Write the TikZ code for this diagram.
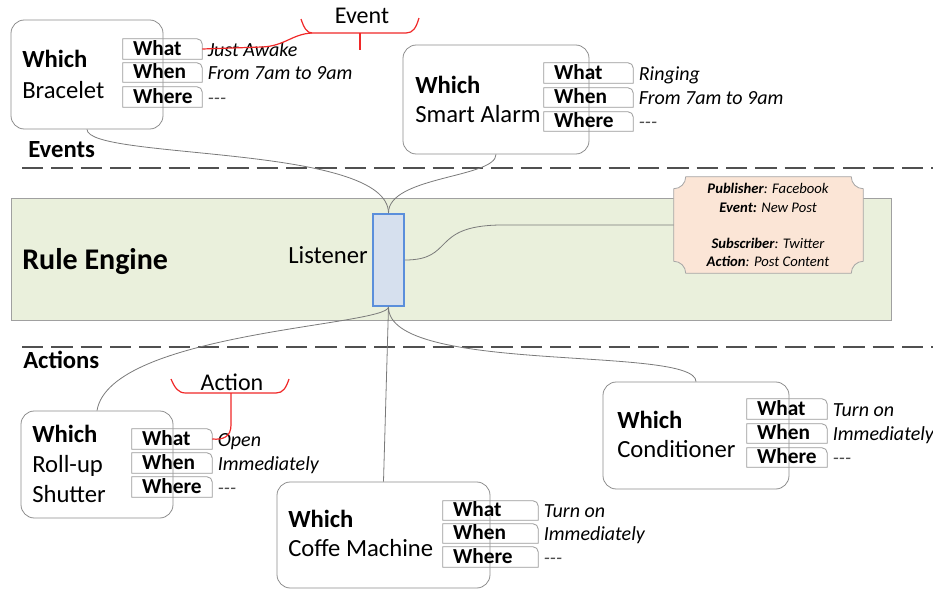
\documentclass[tikz,border=0pt]{standalone}
\usepackage{fontspec}
\setmainfont{Carlito}
\usetikzlibrary{fit}

\definecolor{boxgray}{HTML}{8C8C8C}
\definecolor{fieldgray}{HTML}{9A9A9A}
\definecolor{linkgray}{HTML}{7A7A7A}
\definecolor{sepgray}{HTML}{505050}
\definecolor{bandfill}{HTML}{EAF0DC}
\definecolor{bandline}{HTML}{A0A0A0}
\definecolor{lisfill}{HTML}{D6E0EE}
\definecolor{lisline}{HTML}{5B8FDB}
\definecolor{plaquefill}{HTML}{FBE5D6}
\definecolor{plaqueline}{HTML}{A6A6A6}
\definecolor{bracered}{HTML}{F02828}

\tikzset{
  devbox/.style={draw=boxgray, line width=0.6pt, rounded corners=10pt, inner sep=0pt},
  whichtxt/.style={font=\fontsize{18.5}{22}\selectfont\bfseries, anchor=base west, inner sep=0pt},
  nametxt/.style={font=\fontsize{18.5}{22}\selectfont, anchor=base west, inner sep=0pt},
  fieldline/.style={draw=fieldgray, line width=0.6pt},
  fieldtxt/.style={font=\fontsize{16}{18}\selectfont\bfseries, anchor=base west, inner sep=0pt},
  valtxt/.style={font=\fontsize{15}{17}\selectfont\itshape, anchor=base west, inner sep=0pt},
  sectxt/.style={font=\fontsize{18.5}{22}\selectfont\bfseries, anchor=base west, inner sep=0pt},
  bracetxt/.style={font=\fontsize{18}{22}\selectfont, anchor=base, inner sep=0pt},
  plaquetxt/.style={font=\fontsize{11}{13}\selectfont\itshape, anchor=base, inner sep=0pt},
  link/.style={draw=linkgray, line width=0.6pt},
  redlink/.style={draw=bracered, line width=0.9pt},
  sepline/.style={draw=sepgray, line width=1.3pt, dash pattern=on 16pt off 6pt},
}

% one "What / When / Where" row: name, x1, y1, x2, y2, field, value
\newcommand\devfield[7]{%
  \node[fit={(#2,#3) (#4,#5)}, inner sep=0pt] (#1) {};
  \draw[fieldline] (#1.south west) -- (#1.north west) -- ([xshift=-4pt]#1.north east)
     arc[start angle=90, end angle=0, radius=4pt] -- (#1.south east) -- cycle;
  \node[fieldtxt] (#1-lbl) at ([xshift=7.5pt,yshift=2.5pt]#1.south west) {#6};
  \node[valtxt] (#1-val) at ([xshift=4pt,yshift=2.3pt]#1.south east) {#7};
}
\newcommand\nothing{\textcolor{black!70}{-{}-{}-}}

\begin{document}
\begin{tikzpicture}[x=0.75pt,y=-0.75pt]
\useasboundingbox (0,0) rectangle (933,590);

% rule engine band
\node[fit={(11,198) (891,320)}, inner sep=0pt, draw=bandline, fill=bandfill, line width=0.5pt] (band) {};
\node[font=\fontsize{22.5}{26}\selectfont\bfseries, anchor=base west, inner sep=0pt] (ruleengine) at (22,269) {Rule Engine};
\node[nametxt] (listxt) at (288,263) {Listener};

% separators
\draw[sepline] (22,168) -- (933,168);
\draw[sepline] (22,347) -- (933,347);
\node[sectxt] (events) at (28,157) {Events};
\node[sectxt] (actions) at (23,368) {Actions};

% device boxes
\node[devbox, fit={(11,20) (163,129)}] (bracelet) {};
\node[devbox, fit={(403,45) (589,154)}] (alarm) {};
\node[devbox, fit={(21,411) (173,518)}] (shutter) {};
\node[devbox, fit={(277,482) (490,588)}] (coffee) {};
\node[devbox, fit={(603,382) (789,489)}] (cond) {};

% listener
\node[fit={(373,214) (404,306)}, inner sep=0pt, draw=lisline, fill=lisfill, line width=1.4pt] (lis) {};

% plaque with concave corners
\node[fit={(674,177) (863,273)}, inner sep=0pt] (plaque) {};
\filldraw[fill=plaquefill, draw=plaqueline, line width=0.6pt]
  ([xshift=9pt]plaque.north west) -- ([xshift=-9pt]plaque.north east)
  arc[start angle=180, end angle=270, radius=9pt] -- ([yshift=9pt]plaque.south east)
  arc[start angle=90, end angle=180, radius=9pt] -- ([xshift=9pt]plaque.south west)
  arc[start angle=0, end angle=90, radius=9pt] -- ([yshift=-9pt]plaque.north west)
  arc[start angle=270, end angle=360, radius=9pt] -- cycle;
\node[plaquetxt] (pub) at (768,193) {\textbf{Publisher}: Facebook};
\node[plaquetxt] (evt) at (768,212) {\textbf{Event:} New Post};
\node[plaquetxt] (sub) at (768,248) {\textbf{Subscriber}: Twitter};
\node[plaquetxt] (act) at (768,266) {\textbf{Action}: Post Content};

% connectors
\draw[link] (bracelet.south) .. controls (88,160) and (388,144) .. (lis.north);
\draw[link] (alarm.south) .. controls (496,178) and (388,176) .. (lis.north);
\draw[link] (lis.east) .. controls (455,260) and (430,226) .. (500,225) -- (plaque.west);
\draw[link] (lis.south) .. controls (388,326) and (110,332) .. (shutter.north);
\draw[link] (lis.south) -- (coffee.north);
\draw[link] (lis.south) .. controls (388,375) and (696,345) .. (cond.north);

% device texts
\node[whichtxt] (bw) at (22,67) {Which};
\node[nametxt] (bn) at (22,98) {Bracelet};
\devfield{bwhat}{123}{39}{202}{59}{What}{Just Awake}
\devfield{bwhen}{123}{63}{202}{82}{When}{From 7am to 9am}
\devfield{bwhere}{123}{87}{202}{107}{Where}{\nothing}

\node[whichtxt] (aw) at (415,93) {Which};
\node[nametxt] (an) at (415,122) {Smart Alarm};
\devfield{awhat}{544}{63}{633}{83}{What}{Ringing}
\devfield{awhen}{544}{88}{633}{107}{When}{From 7am to 9am}
\devfield{awhere}{544}{112}{633}{131}{Where}{\nothing}

\node[whichtxt] (sw) at (32,442) {Which};
\node[nametxt] (sn1) at (32,472) {Roll-up};
\node[nametxt] (sn2) at (32,502) {Shutter};
\devfield{swhat}{132}{429}{212}{449}{What}{Open}
\devfield{swhen}{132}{453}{212}{473}{When}{Immediately}
\devfield{swhere}{132}{477}{212}{497}{Where}{\nothing}

\node[whichtxt] (cw) at (288,527) {Which};
\node[nametxt] (cn) at (288,556) {Coffe Machine};
\devfield{cwhat}{443}{501}{538}{520}{What}{Turn on}
\devfield{cwhen}{443}{524}{538}{543}{When}{Immediately}
\devfield{cwhere}{443}{547}{538}{567}{Where}{\nothing}

\node[whichtxt] (dw) at (617,428) {Which};
\node[nametxt] (dn) at (617,457) {Conditioner};
\devfield{dwhat}{747}{399}{827}{419}{What}{Turn on}
\devfield{dwhen}{747}{424}{827}{443}{When}{Immediately}
\devfield{dwhere}{747}{448}{827}{467}{Where}{\nothing}

% "Event" brace
\coordinate (evl) at (312,33);
\draw[redlink] (301,19) .. controls (304,28) and (307,33) .. (evl) -- (406,33)
  .. controls (413,33) and (416,28) .. (419,18);
\draw[redlink] (360,33) -- (360,50);
\draw[redlink] (bwhat.east) -- (262,47) .. controls (285,46) and (292,34) .. (evl);
\node[bracetxt] (eventlbl) at (362,23) {Event};

% "Action" brace
\coordinate (acs) at (231,393);
\draw[redlink] (171,379) .. controls (175,388) and (178,393) .. (186,393) -- (276,393)
  .. controls (283,393) and (286,388) .. (289,379);
\draw[redlink] (acs) -- (231,425) .. controls (231,437) and (223,440) .. (swhat.east);
\node[bracetxt] (actionlbl) at (232,390) {Action};
\end{tikzpicture}
\end{document}
